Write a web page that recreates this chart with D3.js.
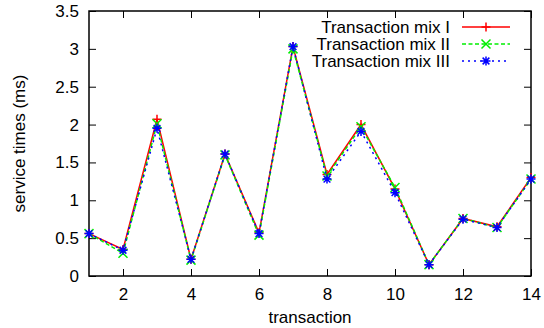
<!DOCTYPE html>
<html>
<head>
<meta charset="utf-8">
<script src="https://cdn.jsdelivr.net/npm/d3@7"></script>
<style>
  body { margin: 0; background: #fff; }
  text { font-family: "Liberation Sans", Arial, sans-serif; }
</style>
</head>
<body>
<div id="chart"></div>
<script>
// data
const transactions = [1, 2, 3, 4, 5, 6, 7, 8, 9, 10, 11, 12, 13, 14];
const mixI   = [0.56, 0.35, 2.07, 0.22, 1.61, 0.57, 3.03, 1.34, 2.00, 1.15, 0.15, 0.76, 0.65, 1.30];
const mixII  = [0.56, 0.30, 2.01, 0.21, 1.60, 0.54, 3.00, 1.32, 1.97, 1.17, 0.15, 0.76, 0.64, 1.28];
const mixIII = [0.56, 0.34, 1.95, 0.22, 1.61, 0.56, 3.03, 1.28, 1.91, 1.10, 0.15, 0.75, 0.64, 1.28];
const seriesNames = ["Transaction mix I", "Transaction mix II", "Transaction mix III"];
const xTicks = [2, 4, 6, 8, 10, 12, 14];
const yTicks = [0, 0.5, 1, 1.5, 2, 2.5, 3, 3.5];

const svgWidth = 544, svgHeight = 328;
const margin = { top: 11, right: 13, bottom: 52, left: 89 };
const width = svgWidth - margin.left - margin.right;
const height = svgHeight - margin.top - margin.bottom;
const fontSize = 17;

const svg = d3.select("#chart")
    .append("svg")
    .attr("width", svgWidth)
    .attr("height", svgHeight);

const g = svg.append("g")
    .attr("transform", `translate(${margin.left},${margin.top})`);

const x = d3.scaleLinear().domain([1, 14]).range([0, width]);
const y = d3.scaleLinear().domain([0, 3.5]).range([height, 0]);

const tickLen = 7;

// axes, ticks point inward (gnuplot style) and mirrored
const axisStyle = sel => {
    sel.select(".domain").remove();
    sel.selectAll("line").attr("stroke", "#000").attr("stroke-width", 1);
    sel.selectAll("text").attr("font-size", fontSize).attr("fill", "#000");
};

g.append("g")
    .attr("transform", `translate(0,${height})`)
    .call(d3.axisBottom(x).tickValues(xTicks).tickSizeInner(-tickLen).tickPadding(12).tickFormat(d3.format("d")))
    .call(axisStyle);

g.append("g")
    .call(d3.axisTop(x).tickValues(xTicks).tickSizeInner(-tickLen).tickFormat(""))
    .call(axisStyle);

g.append("g")
    .call(d3.axisLeft(y).tickValues(yTicks).tickSizeInner(-tickLen).tickPadding(10).tickFormat(d3.format("")))
    .call(axisStyle);

g.append("g")
    .attr("transform", `translate(${width},0)`)
    .call(d3.axisRight(y).tickValues(yTicks).tickSizeInner(-tickLen).tickFormat(""))
    .call(axisStyle);

// frame
g.append("rect")
    .attr("width", width)
    .attr("height", height)
    .attr("fill", "none")
    .attr("stroke", "#000")
    .attr("stroke-width", 1.5);

// markers
const plusPath = s => `M${-s},0H${s}M0,${-s}V${s}`;
const crossPath = s => `M${-s},${-s}L${s},${s}M${-s},${s}L${s},${-s}`;
const starPath = s => plusPath(s) + crossPath(s * 0.75);

const series = [
    { name: seriesNames[0], values: mixI, color: "#ff0000", dash: null, marker: plusPath },
    { name: seriesNames[1], values: mixII, color: "#00ee00", dash: "4,2.5", marker: crossPath },
    { name: seriesNames[2], values: mixIII, color: "#0000ff", dash: "2,4", marker: starPath }
];

const line = d3.line()
    .x((d, i) => x(transactions[i]))
    .y(d => y(d));

series.forEach(s => {
    g.append("path")
        .datum(s.values)
        .attr("fill", "none")
        .attr("stroke", s.color)
        .attr("stroke-width", 1.5)
        .attr("stroke-dasharray", s.dash)
        .attr("d", line);

    g.selectAll(null)
        .data(s.values)
        .enter().append("path")
        .attr("transform", (d, i) => `translate(${x(transactions[i])},${y(d)})`)
        .attr("d", s.marker(4.5))
        .attr("fill", "none")
        .attr("stroke", s.color)
        .attr("stroke-width", 1.5);
});

// legend
const legend = svg.append("g").attr("transform", "translate(450,27)");
series.forEach((s, i) => {
    const row = legend.append("g").attr("transform", `translate(0,${i * 17})`);
    row.append("text")
        .attr("x", 0)
        .attr("y", 0)
        .attr("dy", "0.35em")
        .attr("text-anchor", "end")
        .attr("font-size", fontSize)
        .text(s.name);
    row.append("line")
        .attr("x1", 12).attr("x2", 60)
        .attr("stroke", s.color)
        .attr("stroke-width", 1.5)
        .attr("stroke-dasharray", s.dash);
    row.append("path")
        .attr("transform", "translate(36,0)")
        .attr("d", s.marker(4.5))
        .attr("fill", "none")
        .attr("stroke", s.color)
        .attr("stroke-width", 1.5);
});

// axis labels
svg.append("text")
    .attr("x", margin.left + width / 2)
    .attr("y", 323)
    .attr("text-anchor", "middle")
    .attr("font-size", fontSize)
    .text("transaction");

svg.append("text")
    .attr("transform", `translate(25,${margin.top + height / 2}) rotate(-90)`)
    .attr("text-anchor", "middle")
    .attr("font-size", fontSize)
    .text("service times (ms)");
</script>
</body>
</html>
